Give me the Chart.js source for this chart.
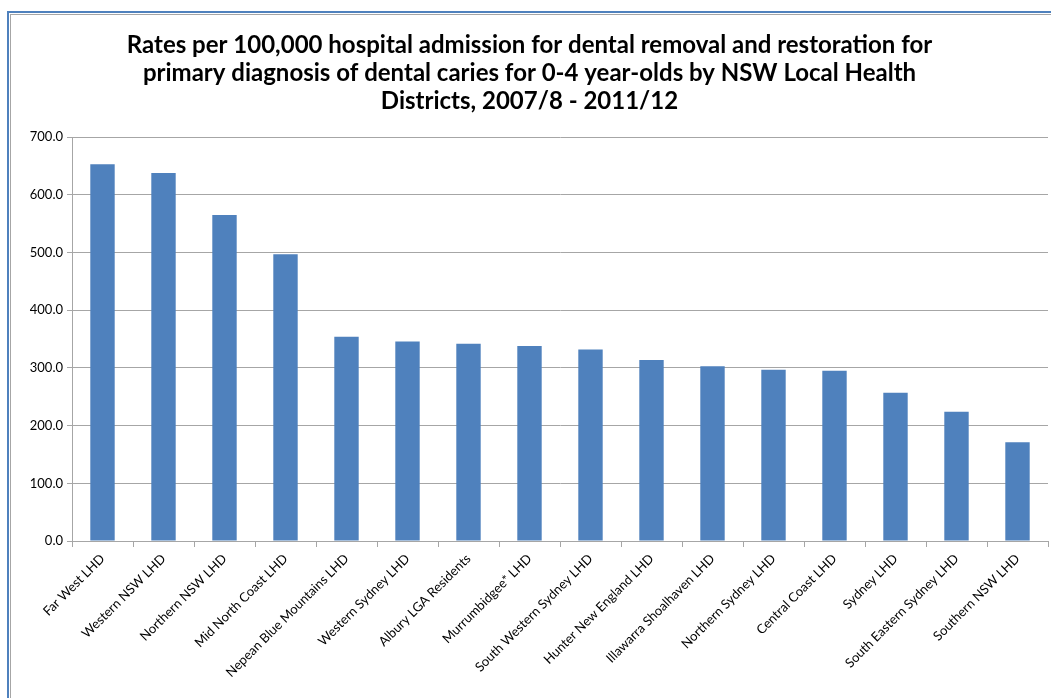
<!DOCTYPE html>
<html>
<head>
<meta charset="utf-8">
<script src="https://cdn.jsdelivr.net/npm/chart.js@4/dist/chart.umd.min.js"></script>
<style>
  html, body { margin: 0; padding: 0; background: #fff; overflow: hidden; }
  body { width: 1051px; height: 698px; position: relative; }
  .frame-outer { position: absolute; left: 7px; top: 11px; right: -20px; bottom: -20px;
    border-left: 2px solid #4f81bd; border-top: 2px solid #4f81bd; }
  .frame-inner { position: absolute; left: 10px; top: 14px; right: -20px; bottom: -20px;
    border-left: 1px solid #a6a6a6; border-top: 1px solid #a6a6a6; }
  .wrap { position: absolute; left: 11px; top: 15px; width: 1052px; height: 683px; }
</style>
</head>
<body>
<div class="frame-outer"></div>
<div class="frame-inner"></div>
<div class="wrap"><canvas id="chart"></canvas></div>
<script>
const districts = [
  "Far West LHD", "Western NSW LHD", "Northern NSW LHD", "Mid North Coast LHD",
  "Nepean Blue Mountains LHD", "Western Sydney LHD", "Albury LGA Residents",
  "Murrumbidgee* LHD", "South Western Sydney LHD", "Hunter New England LHD",
  "Illawarra Shoalhaven LHD", "Northern Sydney LHD", "Central Coast LHD",
  "Sydney LHD", "South Eastern Sydney LHD", "Southern NSW LHD"
];
const rates = [653, 638, 565, 497, 354, 346, 342, 338, 332, 314, 303, 297, 295, 257, 224, 171];
const titleLines = [
  "Rates per 100,000 hospital admission for dental removal and restoration for",
  "primary diagnosis of dental caries for 0-4 year-olds by NSW Local Health",
  "Districts, 2007/8 - 2011/12"
];

const fontFamily = "Lato, 'Open Sans', sans-serif";
const gridColor = "#a6a6a6";

new Chart(document.getElementById("chart"), {
  type: "bar",
  data: {
    labels: districts,
    datasets: [
      {
        data: rates,
        backgroundColor: "#4f81bd",
        borderWidth: 0,
        barPercentage: 0.4,
        categoryPercentage: 1.0,
      },
    ],
  },
  options: {
    responsive: true,
    maintainAspectRatio: false,
    animation: false,
    layout: { padding: { left: 0, right: 15, top: 0, bottom: 0 } },
    plugins: {
      legend: { display: false },
      tooltip: { enabled: false },
      title: {
        display: true,
        text: titleLines,
        color: "#000",
        font: { family: fontFamily, size: 24, weight: "bold", lineHeight: 1.17 },
        padding: { top: 16, bottom: 22 },
      },
    },
    scales: {
      x: {
        grid: {
          offset: true,
          drawOnChartArea: false,
          drawTicks: true,
          tickLength: 6,
          color: gridColor,
        },
        border: { color: gridColor },
        ticks: {
          color: "#000",
          font: { family: fontFamily, size: 13 },
          minRotation: 45,
          maxRotation: 45,
          autoSkip: false,
          padding: 4,
        },
        afterFit: (scale) => { scale.height = 157; },
      },
      y: {
        min: 0,
        max: 700,
        grid: { color: gridColor, tickLength: 5 },
        border: { color: gridColor },
        ticks: {
          stepSize: 100,
          color: "#000",
          font: { family: fontFamily, size: 13 },
          padding: 4,
          callback: (value) => value.toFixed(1),
        },
        afterFit: (scale) => { scale.width = 61; },
      },
    },
  },
});
</script>
</body>
</html>
